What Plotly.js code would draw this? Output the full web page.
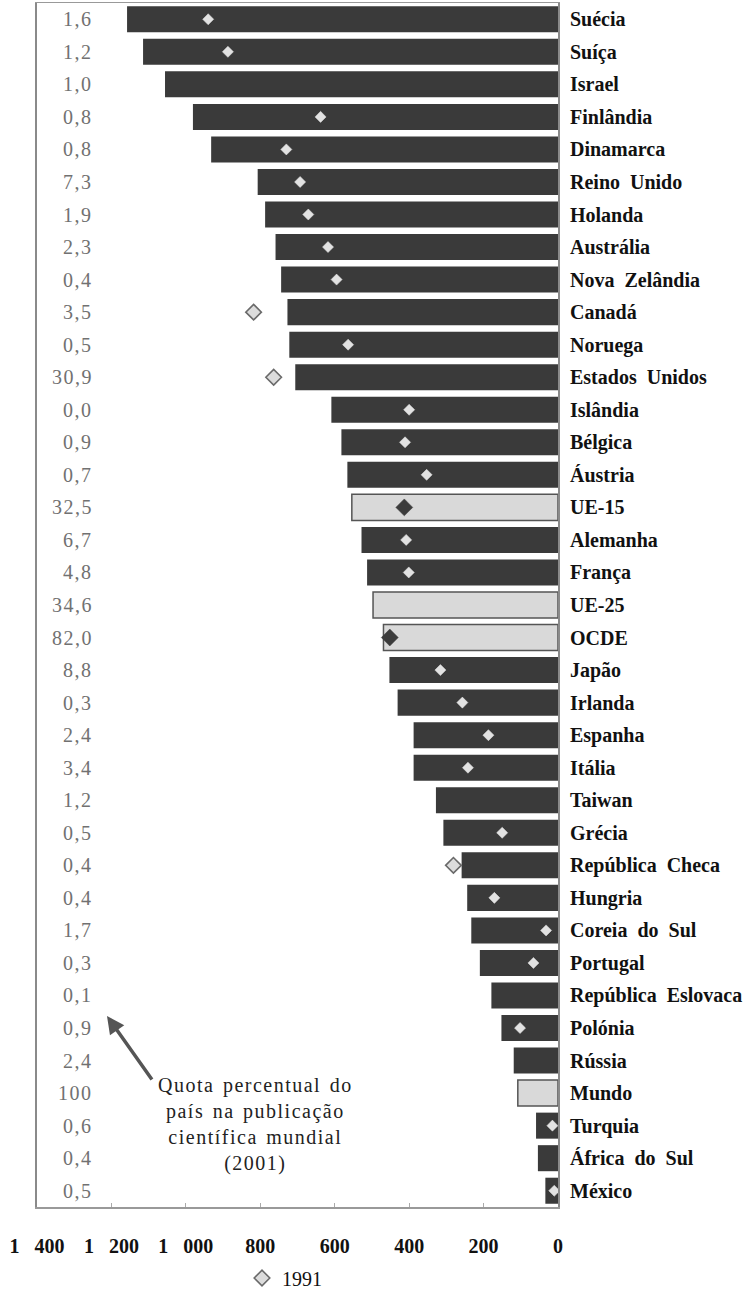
<!DOCTYPE html>
<html>
<head>
<meta charset="utf-8">
<script src="https://cdn.plot.ly/plotly-3.0.1.min.js"></script>
<style>
  html, body { margin: 0; padding: 0; background: #fff; }
  #chart { width: 752px; height: 1291px; }
  .annotation-text { letter-spacing: 1.5px; word-spacing: 2px; }
  .ytick text { word-spacing: 5px; }
</style>
</head>
<body>
<div id="chart"></div>
<script>
// ---- data ----
const countries = ['Suécia','Suíça','Israel','Finlândia','Dinamarca','Reino Unido','Holanda','Austrália','Nova Zelândia','Canadá','Noruega','Estados Unidos','Islândia','Bélgica','Áustria','UE-15','Alemanha','França','UE-25','OCDE','Japão','Irlanda','Espanha','Itália','Taiwan','Grécia','República Checa','Hungria','Coreia do Sul','Portugal','República Eslovaca','Polónia','Rússia','Mundo','Turquia','África do Sul','México'];
const values2001 = [1158,1115,1056,981,932,807,787,759,744,727,722,706,609,582,566,554,528,513,497,469,453,431,388,388,328,308,259,244,233,210,179,152,119,108,59,54,34];
const values1991 = [940,887,null,638,730,693,671,618,595,818,564,764,400,411,353,413,408,401,null,452,316,257,187,242,null,150,281,171,32,66,null,102,null,null,15,null,10];
const shares = ['1,6','1,2','1,0','0,8','0,8','7,3','1,9','2,3','0,4','3,5','0,5','30,9','0,0','0,9','0,7','32,5','6,7','4,8','34,6','82,0','8,8','0,3','2,4','3,4','1,2','0,5','0,4','0,4','1,7','0,3','0,1','0,9','2,4','100','0,6','0,4','0,5'];
const aggregates = ['UE-15','UE-25','OCDE','Mundo'];
const xTickVals = [1400,1200,1000,800,600,400,200,0];
const xTickText = ['1\u00a0\u00a0\u00a0400','1\u00a0\u00a0\u00a0200','1\u00a0\u00a0\u00a0000','800','600','400','200','0'];
const legendName = '1991';
const noteText = 'Quota percentual do<br>país na publicação<br>científica mundial<br>(2001)';

// ---- styles ----
const DARK = '#3a3a3a', LIGHT = '#d9d9d9';
const SERIF = "'Liberation Serif', 'Times New Roman', serif";
const isAgg = countries.map(c => aggregates.includes(c));

const barTrace = {
  type: 'bar', orientation: 'h', y: countries, x: values2001,
  marker: {
    color: isAgg.map(a => a ? LIGHT : DARK),
    line: { color: isAgg.map(a => a ? '#555' : DARK), width: isAgg.map(a => a ? 1.5 : 0) }
  },
  showlegend: false, hoverinfo: 'skip'
};

function pick(cond) {
  const ys = [], xs = [];
  countries.forEach((c, i) => {
    if (values1991[i] !== null && cond(i)) { ys.push(c); xs.push(values1991[i]); }
  });
  return { ys, xs };
}
const outlined = pick(i => !isAgg[i] && values1991[i] > values2001[i]);
const plain = pick(i => !isAgg[i] && values1991[i] <= values2001[i]);
const darkD = pick(i => isAgg[i]);

const tOut = { type: 'scatter', mode: 'markers', name: legendName, y: outlined.ys, x: outlined.xs,
  marker: { symbol: 'diamond', size: 12, color: '#dcdcdc', line: { color: '#6a6a6a', width: 1.6 } }, hoverinfo: 'skip' };
const tPlain = { type: 'scatter', mode: 'markers', name: legendName, y: plain.ys, x: plain.xs, showlegend: false,
  marker: { symbol: 'diamond', size: 8.5, color: '#e2e2e2', line: { color: '#e2e2e2', width: 0.5 } }, hoverinfo: 'skip' };
const tDark = { type: 'scatter', mode: 'markers', name: legendName, y: darkD.ys, x: darkD.xs, showlegend: false,
  marker: { symbol: 'diamond', size: 13, color: '#3c3c3c', line: { color: '#3c3c3c', width: 0.5 } }, hoverinfo: 'skip' };

// layout geometry
const W = 752, H = 1291;
const M = { l: 37, r: 194, t: 3, b: 84, autoexpand: false };
const pw = W - M.l - M.r, ph = H - M.t - M.b;
const px2x = x => (x - M.l) / pw;
const px2y = y => 1 - (y - M.t) / ph;

const annotations = countries.map((c, i) => ({
  xref: 'paper', yref: 'y', x: px2x(95), y: c, xanchor: 'right', yanchor: 'middle',
  text: shares[i], showarrow: false, font: { family: SERIF, size: 20, color: '#717171' }
}));
annotations.push({
  xref: 'paper', yref: 'paper', x: px2x(255), y: px2y(1124), xanchor: 'center', yanchor: 'middle',
  text: noteText, showarrow: false, align: 'center', font: { family: SERIF, size: 20, color: '#222' }
});
annotations.push({
  xref: 'paper', yref: 'paper', x: px2x(107), y: px2y(1016), text: '', showarrow: true,
  ax: 46, ay: 65, arrowhead: 2, arrowsize: 1, arrowwidth: 3.5, arrowcolor: '#555'
});

const layout = {
  width: W, height: H, margin: M,
  paper_bgcolor: '#fff', plot_bgcolor: '#fff',
  bargap: 0.2, barmode: 'overlay',
  font: { family: SERIF, size: 20, color: '#111' },
  xaxis: {
    range: [1400, 0], autorange: false, tickvals: xTickVals, ticktext: xTickText,
    ticks: 'inside', ticklen: 4, tickcolor: '#aaa', tickwidth: 1,
    showline: true, linecolor: '#999', linewidth: 1.5, mirror: true,
    showgrid: false, zeroline: false, fixedrange: true,
    tickfont: { family: SERIF, size: 20, color: '#111', weight: 'bold' },
    ticklabelstandoff: 20
  },
  yaxis: {
    type: 'category', range: [countries.length - 0.5, -0.5], autorange: false, side: 'right',
    showline: true, linecolor: '#8a8a8a', linewidth: 2, mirror: true,
    ticks: '', showgrid: false, zeroline: false, fixedrange: true,
    tickfont: { family: SERIF, size: 20, color: '#111', weight: 'bold' },
    ticklabelstandoff: 6
  },
  legend: {
    orientation: 'h', x: px2x(242), xanchor: 'left', y: px2y(1278), yanchor: 'middle',
    font: { family: SERIF, size: 20, color: '#111' }, bgcolor: 'rgba(0,0,0,0)'
  },
  annotations: annotations
};

Plotly.newPlot('chart', [barTrace, tPlain, tDark, tOut], layout, { displayModeBar: false, staticPlot: true });
</script>
</body>
</html>
